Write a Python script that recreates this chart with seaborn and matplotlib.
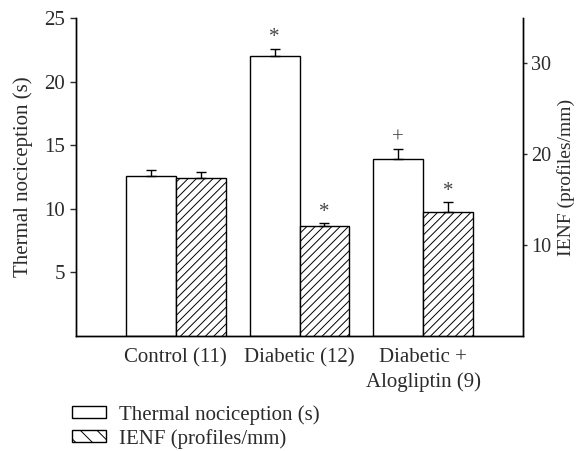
import matplotlib
matplotlib.use("Agg")
import matplotlib.pyplot as plt
import seaborn as sns
import pandas as pd
import numpy as np
from matplotlib.patches import Patch

groups = ["Control (11)", "Diabetic (12)", "Diabetic +\nAlogliptin (9)"]
series = ["Thermal nociception (s)", "IENF (profiles/mm)"]
thermal_mean = [12.6, 22.0, 13.9]
thermal_err = [0.45, 0.6, 0.8]
ienf_mean = [17.4, 12.1, 13.7]
ienf_err = [0.6, 0.35, 1.1]
thermal_marks = ["", "*", "+"]
ienf_marks = ["", "*", "*"]

sns.set_style("white")
plt.rcParams["font.family"] = ["Liberation Serif", "DejaVu Serif"]
plt.rcParams["hatch.linewidth"] = 0.7
txt = "#2b2b2b"
FS = 15

fig = plt.figure(figsize=(5.79, 4.51), dpi=100)
ax = fig.add_axes([76/579, 1-336/451, (523-76)/579, (336-18)/451])
ax2 = ax.twinx()

df1 = pd.DataFrame({"group": groups * 2,
                    "series": [series[0]]*3 + [series[1]]*3,
                    "value": thermal_mean + [np.nan]*3})
df2 = pd.DataFrame({"group": groups * 2,
                    "series": [series[0]]*3 + [series[1]]*3,
                    "value": [np.nan]*3 + ienf_mean})

sns.barplot(data=df1, x="group", y="value", hue="series", hue_order=series,
            order=groups, ax=ax, width=0.806, errorbar=None, legend=False,
            palette=["white", "white"], edgecolor="black", linewidth=1.0)
sns.barplot(data=df2, x="group", y="value", hue="series", hue_order=series,
            order=groups, ax=ax2, width=0.806, errorbar=None, legend=False,
            palette=["white", "white"], edgecolor="black", linewidth=1.0)

def real_patches(a):
    return [p for p in a.patches if np.isfinite(p.get_height()) and p.get_height() > 0]

tp = sorted(real_patches(ax), key=lambda p: p.get_x())
ip = sorted(real_patches(ax2), key=lambda p: p.get_x())
for p in ip:
    p.set_hatch("////")

tx = [p.get_x() + p.get_width()/2 for p in tp]
ix = [p.get_x() + p.get_width()/2 for p in ip]
ax.errorbar(tx, thermal_mean, yerr=[np.zeros(3), thermal_err], fmt="none",
            ecolor="black", elinewidth=1.0, capsize=3.3, capthick=1.0, zorder=1)
ax2.errorbar(ix, ienf_mean, yerr=[np.zeros(3), ienf_err], fmt="none",
             ecolor="black", elinewidth=1.0, capsize=3.3, capthick=1.0, zorder=1)
for x, m, e, s in zip(tx, thermal_mean, thermal_err, thermal_marks):
    if s:
        ax.text(x, m + e + 0.1, s, ha="center", va="bottom", fontsize=FS, color="#444444")
for x, m, e, s in zip(ix, ienf_mean, ienf_err, ienf_marks):
    if s:
        ax2.text(x, m + e + 0.1, s, ha="center", va="bottom", fontsize=FS, color="#444444")

ax.set_xlim(-0.806, 2.806)
ax.set_ylim(0, 25)
ax2.set_ylim(0, 35)
ax.set_yticks([5, 10, 15, 20, 25])
ax2.set_yticks([10, 20, 30])
ax.set_xlabel("")
ax.set_ylabel("Thermal nociception (s)", fontsize=FS, color=txt, labelpad=8)
ax2.set_ylabel("IENF (profiles/mm)", fontsize=14, color=txt, labelpad=4)
ax.tick_params(axis="y", direction="out", length=4.3, width=1, colors=txt, labelsize=FS, pad=3.5, left=True)
ax2.tick_params(axis="y", direction="out", length=3, width=1, colors=txt, labelsize=14.5, pad=3, right=True)
ax.tick_params(axis="x", length=0, labelsize=FS, colors=txt, pad=9)
ax.set_xticks(range(3))
ax.set_xticklabels(groups, linespacing=1.35)
for a in (ax, ax2):
    a.spines["top"].set_visible(False)
    for s in ("left", "right", "bottom"):
        a.spines[s].set_linewidth(1.0)
        a.spines[s].set_color("black")

handles = [Patch(facecolor="white", edgecolor="black", linewidth=1.0, label=series[0]),
           Patch(facecolor="white", edgecolor="black", linewidth=1.0, hatch="\\\\", label=series[1])]
fig.legend(handles=handles, loc="upper left", bbox_to_anchor=(72/579, 1-405/451),
           frameon=False, fontsize=FS, handlelength=1.65, handleheight=0.5,
           labelspacing=0.2, handletextpad=0.6, labelcolor=txt, borderaxespad=0,
           borderpad=0)

fig.savefig("out.png", dpi=100)
